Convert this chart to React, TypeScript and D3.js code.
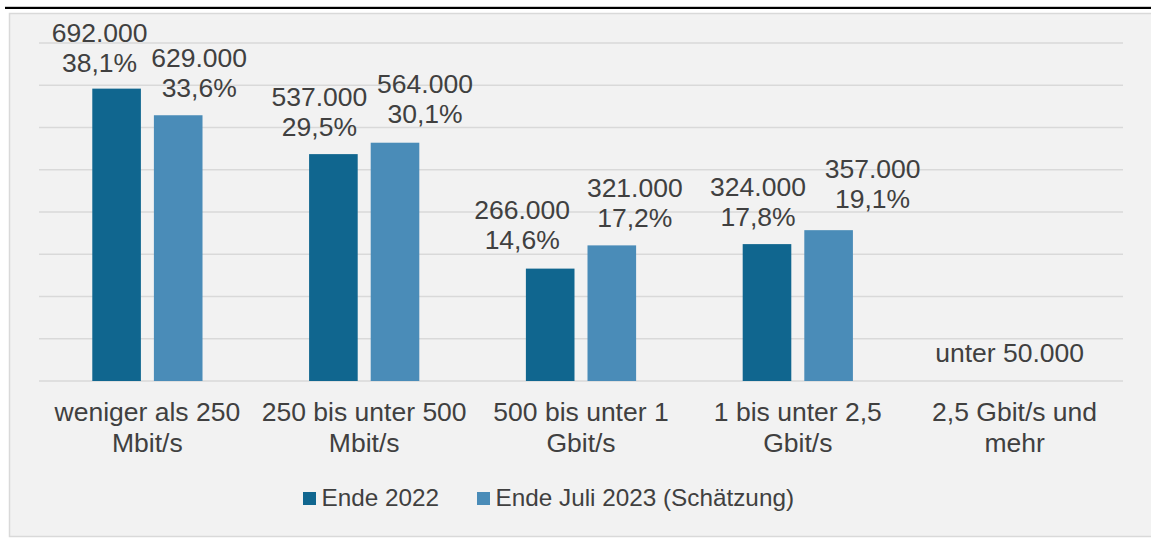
import React, { useEffect, useRef } from "react";
import * as d3 from "d3";

const categories = [
  ["weniger als 250", "Mbit/s"],
  ["250 bis unter 500", "Mbit/s"],
  ["500 bis unter 1", "Gbit/s"],
  ["1 bis unter 2,5", "Gbit/s"],
  ["2,5 Gbit/s und", "mehr"],
];
const seriesNames = ["Ende 2022", "Ende Juli 2023 (Schätzung)"];
const ende2022 = [692000, 537000, 266000, 324000, null];
const juli2023 = [629000, 564000, 321000, 357000, null];
const pct2022 = ["38,1%", "29,5%", "14,6%", "17,8%", null];
const pct2023 = ["33,6%", "30,1%", "17,2%", "19,1%", null];
const lastLabel = "unter 50.000";
const yTicks = [0, 100000, 200000, 300000, 400000, 500000, 600000, 700000, 800000];
const colors = ["#10668f", "#4a8cb8"];

// hand-placed label nudges (px), as in the original chart
const labelDx = [
  [-17, -14, -28, -9],
  [21, 30, 23, 44],
];
const labelGap = [
  [17, 18, 20, 18],
  [18, 19.5, 18.7, 22],
];

const W = 1151;
const H = 540;

const App = () => {
  const svgRef = useRef<SVGSVGElement>(null);

  useEffect(() => {
    const svg = d3.select(svgRef.current);
    svg.selectAll("*").remove();
    const font = "'Liberation Sans', Arial, sans-serif";
    const textColor = "#404040";
    const fs = 26.5;

    // frame
    svg.append("rect").attr("x", 0).attr("y", 0).attr("width", W).attr("height", H).attr("fill", "#fff");
    svg.append("rect")
      .attr("x", 9.5).attr("y", 13.5).attr("width", W).attr("height", 523)
      .attr("fill", "#f2f2f2").attr("stroke", "#d9d9d9").attr("stroke-width", 1.5);
    svg.append("rect").attr("x", 5).attr("y", 6.8).attr("width", W).attr("height", 2.2).attr("fill", "#000");

    const x0 = d3.scaleBand<number>()
      .domain(d3.range(categories.length))
      .range([39, 1123]);
    const x1 = d3.scaleBand<number>()
      .domain([0, 1])
      .range([0, x0.bandwidth()])
      .paddingInner(0.211)
      .paddingOuter(0.865);
    const y = d3.scaleLinear().domain([0, 800000]).range([381, 43]);

    // gridlines
    svg.append("g")
      .selectAll("line")
      .data(yTicks)
      .join("line")
      .attr("x1", 39).attr("x2", 1123)
      .attr("y1", (d) => y(d)).attr("y2", (d) => y(d))
      .attr("stroke", "#d9d9d9").attr("stroke-width", 1.5);

    const series = [
      { vals: ende2022, pct: pct2022 },
      { vals: juli2023, pct: pct2023 },
    ];

    series.forEach((s, si) => {
      const g = svg.append("g");
      const rows = s.vals.map((v, i) => ({ v, i, p: s.pct[i] })).filter((d) => d.v != null);
      g.selectAll("rect")
        .data(rows)
        .join("rect")
        .attr("x", (d) => x0(d.i)! + x1(si)!)
        .attr("y", (d) => y(d.v as number))
        .attr("width", x1.bandwidth())
        .attr("height", (d) => y(0) - y(d.v as number))
        .attr("fill", colors[si]);
      const lx = (d: any) => x0(d.i)! + x1(si)! + x1.bandwidth() / 2 + labelDx[si][d.i];
      const lab = g.selectAll("text")
        .data(rows)
        .join("text")
        .attr("x", lx)
        .attr("y", (d) => y(d.v as number) - labelGap[si][d.i])
        .attr("text-anchor", "middle")
        .attr("font-family", font)
        .attr("font-size", fs)
        .attr("fill", textColor);
      lab.append("tspan")
        .attr("x", lx)
        .attr("dy", -30)
        .text((d) => d3.format(",")(d.v as number).replace(/,/g, "."));
      lab.append("tspan")
        .attr("x", lx)
        .attr("dy", 30)
        .text((d) => d.p as string);
    });

    // label for category without bars
    svg.append("text")
      .attr("x", x0(categories.length - 1)! + x0.bandwidth() / 2 - 5)
      .attr("y", y(0) - 19)
      .attr("text-anchor", "middle")
      .attr("font-family", font)
      .attr("font-size", fs)
      .attr("fill", textColor)
      .text(lastLabel);

    // category labels
    const cat = svg.append("g")
      .selectAll("text")
      .data(categories)
      .join("text")
      .attr("text-anchor", "middle")
      .attr("font-family", font)
      .attr("font-size", fs)
      .attr("fill", textColor);
    cat.each(function (lines, i) {
      const t = d3.select(this);
      const cx = x0(i)! + x0.bandwidth() / 2;
      lines.forEach((ln, li) => {
        t.append("tspan").attr("x", cx).attr("y", 421 + li * 31).text(ln);
      });
    });

    // legend
    const legendX = [303, 477];
    seriesNames.forEach((name, i) => {
      svg.append("rect")
        .attr("x", legendX[i]).attr("y", 492)
        .attr("width", 13).attr("height", 13)
        .attr("fill", colors[i]);
      svg.append("text")
        .attr("x", legendX[i] + 18.5).attr("y", 505.5)
        .attr("font-family", font)
        .attr("font-size", 24.3)
        .attr("fill", textColor)
        .text(name);
    });
  }, []);

  return (
    <svg
      ref={svgRef}
      width={W}
      height={H}
      style={{ position: "absolute", left: 0, top: 0, display: "block" }}
    />
  );
};

export default App;
